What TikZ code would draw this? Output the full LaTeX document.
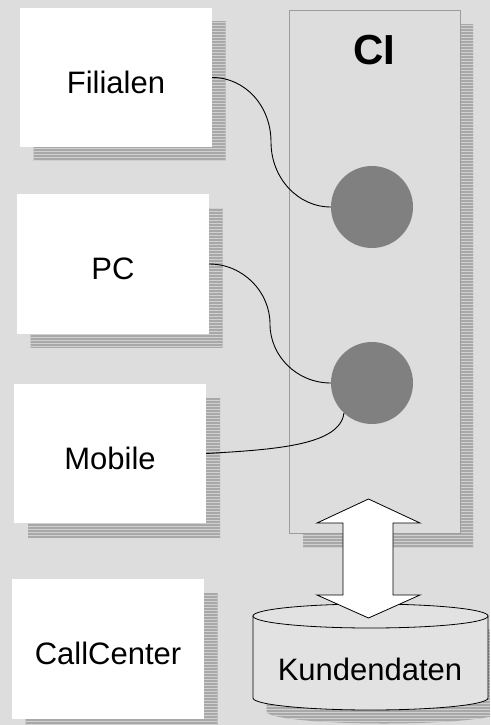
\documentclass[tikz,border=0pt]{standalone}
\usepackage{fontspec}
\setmainfont{Liberation Sans}
\definecolor{bgc}{HTML}{DDDDDD}
\definecolor{shd}{HTML}{A8A8A8}
\definecolor{shl}{HTML}{D0D0D0}
\definecolor{cigray}{HTML}{9C9C9C}
\definecolor{dotgray}{HTML}{808080}
\definecolor{cylc}{HTML}{E2E2E2}
\newcommand\hshadow[1]{%
  \begin{scope}
    \clip #1;
    \fill[shd] (0,0) rectangle (490,725);
    \foreach \yy in {1.5,4.5,...,724.5} \draw[shl,line width=0.8pt] (0,\yy) -- (490,\yy);
  \end{scope}}
\tikzset{
  whitebox/.style={fill=white, draw=none, rectangle, inner sep=0pt, minimum width=192pt, minimum height=139pt},
  lbl/.style={font=\fontsize{31}{37}\selectfont, inner sep=0pt, anchor=base},
  dot/.style={circle, fill=dotgray, draw=none, minimum size=82pt, inner sep=0pt},
  conn/.style={draw=black, line width=0.9pt},
}
\begin{document}
\begin{tikzpicture}[x=1pt,y=-1pt]
\useasboundingbox (0,0) rectangle (490,725);
\fill[bgc] (0,0) rectangle (490,725);
% shadows
\hshadow{(33.5,21.5) rectangle (225.5,160.5)}
\hshadow{(30.5,208) rectangle (222.5,347)}
\hshadow{(28,398) rectangle (220,537)}
\hshadow{(25.5,593) rectangle (217.5,733)}
\hshadow{(303,25) rectangle (473,547)}
\hshadow{(266.5,629.5) -- (266.5,711.5) .. controls (266.5,718.1) and (319.1,723.5) .. (384,723.5) .. controls (448.9,723.5) and (501.5,718.1) .. (501.5,711.5) -- (501.5,629.5) -- cycle}
% boxes
\node[whitebox] (fil) at (116,77.5) {};
\node[whitebox, minimum height=140pt] (pc) at (113,264) {};
\node[whitebox] (mob) at (110,453.5) {};
\node[whitebox, minimum height=140pt] (cc) at (108,649) {};
\node[lbl] (filt) at (116,93) {Filialen};
\node[lbl] (pct) at (113,279) {PC};
\node[lbl] (mobt) at (110,469) {Mobile};
\node[lbl] (cct) at (108,664) {CallCenter};
% CI
\node[draw=cigray, fill=bgc, line width=1pt, rectangle, inner sep=0pt, minimum width=171pt, minimum height=522pt] (ci) at (374.5,272) {};
\node[font=\fontsize{42}{48}\selectfont\bfseries, inner sep=0pt, anchor=base] (cit) at (374,65) {CI};
\node[dot] (c1) at (372,207) {};
\node[dot] (c2) at (372,383) {};
% connectors
\coordinate (m1) at (271,142);
\coordinate (m2) at (270,324);
\draw[conn] (fil.east) .. controls +(33,0) and +(0,-36) .. (m1) .. controls +(0,36) and +(-33,0) .. (c1.west);
\draw[conn] (pc.east) .. controls +(34,0) and +(0,-32) .. (m2) .. controls +(0,32) and +(-34,0) .. (c2.west);
\draw[conn] (mob.east) .. controls +(70,-4) and +(-4,32) .. (c2.-133);
% database cylinder
\coordinate (db) at (370.5,657);
\fill[cylc, draw=black, line width=0.8pt] (253,616) -- (253,698) .. controls (253,704.6) and (305.6,710) .. (370.5,710) .. controls (435.4,710) and (488,704.6) .. (488,698) -- (488,616) -- cycle;
\draw[fill=cylc, line width=0.8pt] (370.5,616) ellipse [x radius=117.5, y radius=12];
\node[lbl] (dbt) at (370,680) {Kundendaten};
% double arrow
\draw[fill=white, line width=0.8pt, line join=miter] (368.5,499) -- (420,523) -- (393,523) -- (393,595) -- (420,595) -- (368.5,618) -- (317,595) -- (343,595) -- (343,523) -- (317,523) -- cycle;
\end{tikzpicture}
\end{document}
